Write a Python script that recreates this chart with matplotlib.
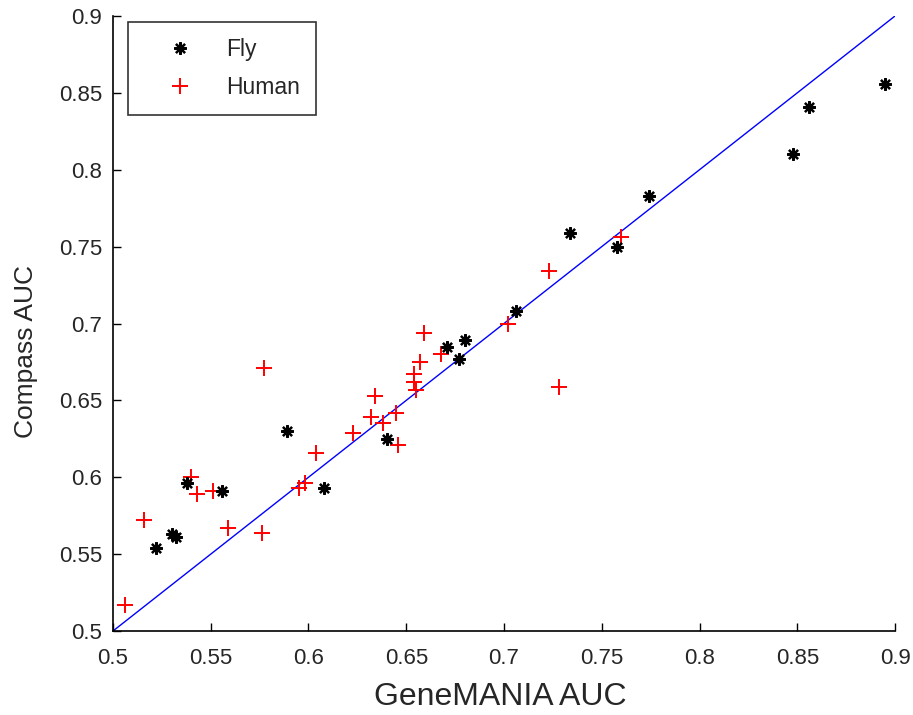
import matplotlib
matplotlib.use("Agg")
import matplotlib.pyplot as plt

plt.rcParams['font.family'] = ['Liberation Sans', 'DejaVu Sans']

fly_x = [0.522, 0.530, 0.532, 0.538, 0.556, 0.589, 0.608, 0.640, 0.671, 0.680,
         0.677, 0.706, 0.734, 0.758, 0.774, 0.848, 0.856, 0.895]
fly_y = [0.554, 0.563, 0.561, 0.596, 0.591, 0.630, 0.593, 0.625, 0.685, 0.689,
         0.677, 0.708, 0.759, 0.750, 0.783, 0.810, 0.841, 0.856]

human_x = [0.506, 0.516, 0.540, 0.543, 0.551, 0.559, 0.576, 0.577, 0.595, 0.598,
           0.604, 0.623, 0.632, 0.634, 0.638, 0.645, 0.646, 0.654, 0.654, 0.655,
           0.657, 0.659, 0.668, 0.702, 0.723, 0.728, 0.760]
human_y = [0.517, 0.572, 0.600, 0.589, 0.591, 0.567, 0.564, 0.671, 0.593, 0.596,
           0.616, 0.629, 0.639, 0.653, 0.635, 0.642, 0.621, 0.667, 0.662, 0.657,
           0.675, 0.694, 0.680, 0.700, 0.734, 0.659, 0.756]

diag = [0.5, 0.9]
xticks = [0.5, 0.55, 0.6, 0.65, 0.7, 0.75, 0.8, 0.85, 0.9]
yticks = [0.5, 0.55, 0.6, 0.65, 0.7, 0.75, 0.8, 0.85, 0.9]

TXT = '#262626'

fig = plt.figure(figsize=(9.13, 7.15), dpi=100)
ax = fig.add_axes([113/913, 1 - 631/715, (895-113)/913, (631-16)/715])

ax.plot(diag, diag, color='#0000ff', lw=1.0, zorder=1)
ax.plot(fly_x, fly_y, linestyle='none', marker=(8, 2, 0), markersize=9,
        markeredgewidth=1.6, color='black', label='Fly', zorder=3)
ax.plot(human_x, human_y, linestyle='none', marker='+', markersize=12,
        markeredgewidth=1.4, color='#ff0000', label='Human', zorder=2)

ax.set_xlim(0.5, 0.9)
ax.set_ylim(0.5, 0.9)
ax.set_xticks(xticks)
ax.set_yticks(yticks)
ax.set_xticklabels([f"{t:g}" for t in xticks])
ax.set_yticklabels([f"{t:g}" for t in yticks])
ax.tick_params(direction='in', length=6, width=1, labelsize=16,
               labelcolor=TXT)
ax.tick_params(axis='x', pad=12)
ax.tick_params(axis='y', pad=8)
for s in ['top', 'right']:
    ax.spines[s].set_visible(False)
for s in ['left', 'bottom']:
    ax.spines[s].set_linewidth(1.2)

ax.set_xlabel('GeneMANIA AUC', fontsize=23, color=TXT)
ax.xaxis.label.set_va('center')
ax.xaxis.set_label_coords((500-113)/782, -(697-631)/615)
ax.set_ylabel('Compass AUC', fontsize=19, color=TXT)
ax.yaxis.label.set_va('center')
ax.yaxis.set_label_coords((26-113)/782, (631-351)/615)

leg = ax.legend(loc='upper left', bbox_to_anchor=(15/782, (631-22)/615), fontsize=16.5,
                frameon=True, fancybox=False, edgecolor='black', borderpad=0.68,
                handlelength=3.2, handletextpad=0.4, labelspacing=0.68,
                borderaxespad=0)
leg.get_frame().set_linewidth(1.2)
for t in leg.get_texts():
    t.set_color(TXT)

fig.savefig('out.png', dpi=100)
